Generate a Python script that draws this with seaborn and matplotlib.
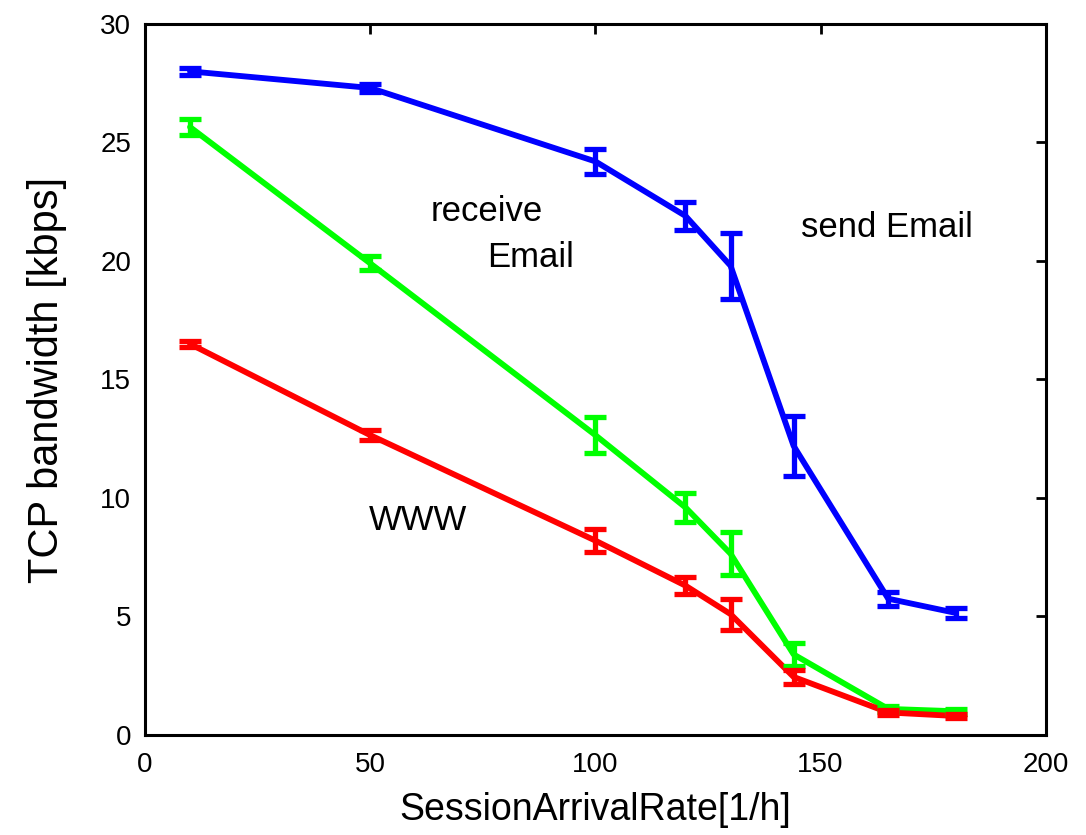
import matplotlib
matplotlib.use("Agg")
import matplotlib.pyplot as plt
import seaborn as sns
import pandas as pd

# data
rate = [10, 50, 100, 120, 130, 144, 165, 180]
send_email = [28.0, 27.3, 24.2, 21.9, 19.8, 12.2, 5.75, 5.15]
send_email_err = [0.15, 0.15, 0.53, 0.6, 1.4, 1.27, 0.3, 0.2]
recv_email = [25.65, 19.9, 12.65, 9.6, 7.65, 3.4, 1.1, 1.0]
recv_email_err = [0.35, 0.3, 0.77, 0.6, 0.9, 0.5, 0.12, 0.1]
www = [16.5, 12.65, 8.2, 6.3, 5.1, 2.45, 0.95, 0.8]
www_err = [0.12, 0.2, 0.5, 0.35, 0.65, 0.3, 0.1, 0.1]

series = {
    "send Email": (send_email, send_email_err, "#0000ff"),
    "receive Email": (recv_email, recv_email_err, "#00ff00"),
    "WWW": (www, www_err, "#ff0000"),
}

sns.set_style("white")
plt.rcParams["font.family"] = ["Liberation Sans", "DejaVu Sans"]
plt.rcParams["text.color"] = "black"
plt.rcParams["axes.labelcolor"] = "black"

fig = plt.figure(figsize=(10.86, 8.35), dpi=100)
ax = fig.add_axes([0.1335, 0.1198, 0.8295, 0.8515])

rows = []
for name, (vals, errs, col) in series.items():
    for x, y in zip(rate, vals):
        rows.append({"rate": x, "bw": y, "series": name})
df = pd.DataFrame(rows)
palette = {k: v[2] for k, v in series.items()}
sns.lineplot(data=df, x="rate", y="bw", hue="series", palette=palette,
             linewidth=4.2, legend=False, ax=ax, zorder=3)

for name, (vals, errs, col) in series.items():
    ax.errorbar(rate, vals, yerr=errs, fmt="none", ecolor=col,
                elinewidth=3.8, capsize=8, capthick=3.8, zorder=4)

ax.set_xlim(0, 200)
ax.set_ylim(0, 30)
ax.set_xticks([0, 50, 100, 150, 200])
ax.set_yticks([0, 5, 10, 15, 20, 25, 30])
ax.tick_params(direction="in", length=7, width=2, labelsize=20,
               top=True, right=True, colors="black")
ax.tick_params(axis="x", pad=12)
ax.tick_params(axis="y", pad=10)
for s in ax.spines.values():
    s.set_linewidth(2.2)
    s.set_color("black")

ax.set_xlabel("SessionArrivalRate[1/h]", fontsize=27, labelpad=10)
ax.set_ylabel("TCP bandwidth [kbps]", fontsize=30, labelpad=24)

ax.annotate("receive", xy=(75.8, 22.1), fontsize=25, ha="center", va="center")
ax.annotate("Email", xy=(85.6, 20.15), fontsize=25, ha="center", va="center")
ax.annotate("send Email", xy=(164.7, 21.4), fontsize=25, ha="center", va="center")
ax.annotate("WWW", xy=(60.7, 9.04), fontsize=25, ha="center", va="center")

fig.savefig("out.png", dpi=100)
